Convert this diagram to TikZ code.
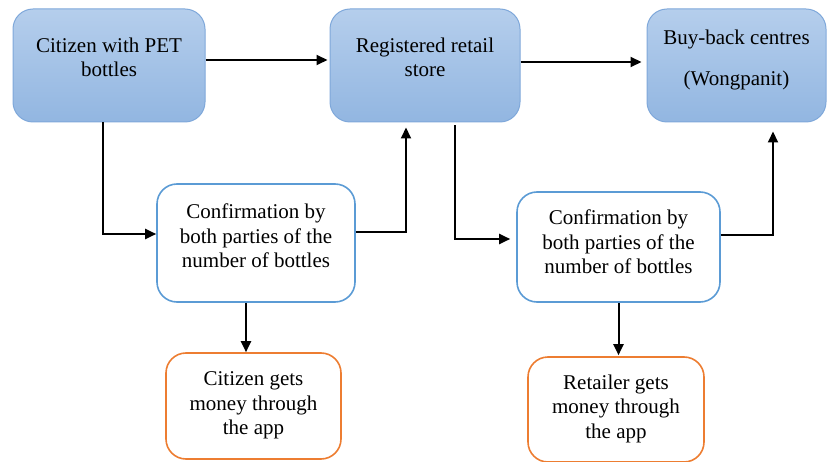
\documentclass[tikz,border=0pt]{standalone}
\usepackage{fontspec}
\newfontfamily\boxfont{LiberationSerif}[Extension=.ttf,UprightFont=*-Regular,BoldFont=*-Bold]
\usetikzlibrary{arrows.meta,calc}
\definecolor{topA}{HTML}{B5CEEC}
\definecolor{topB}{HTML}{92B6E1}
\definecolor{topLine}{HTML}{7FA8DA}
\definecolor{confLine}{HTML}{5B9BD5}
\definecolor{moneyLine}{HTML}{ED7D31}
\tikzset{
  x=1pt,y=1pt,
  topbox/.style={draw=topLine,line width=1pt,rounded corners=20pt,top color=topA,bottom color=topB,inner sep=0pt},
  confbox/.style={draw=confLine,line width=1.6pt,rounded corners=20pt,fill=white,inner sep=0pt},
  moneybox/.style={draw=moneyLine,line width=1.6pt,rounded corners=20pt,fill=white,inner sep=0pt},
  txt/.style={align=center,font=\boxfont\fontsize{21}{24.5}\selectfont,inner sep=0pt},
  arr/.style={line width=2pt,-{Triangle[length=11pt,width=10pt]}}
}
\begin{document}
\begin{tikzpicture}
\useasboundingbox (0,0) rectangle (827,461);
% top row
\node[topbox,minimum width=192pt,minimum height=113pt] (b1) at (109,395.5) {};
\node[topbox,minimum width=190pt,minimum height=113pt] (b2) at (425,395.5) {};
\node[topbox,minimum width=179pt,minimum height=113pt] (b3) at (736.5,395.5) {};
\node[txt] (t1) at (109,403.5) {Citizen with PET\\bottles};
\node[txt] (t2) at (425,403.5) {Registered retail\\store};
\node[txt] (t3) at (736.5,401.5) {Buy-back centres\\[16.5pt](Wongpanit)};
% confirmation boxes
\node[confbox,minimum width=198pt,minimum height=118pt] (c1) at (256,218) {};
\node[confbox,minimum width=203pt,minimum height=110pt] (c2) at (618.5,214) {};
\node[txt] (tc1) at (256,225) {Confirmation by\\both parties of the\\number of bottles};
\node[txt] (tc2) at (618.5,219) {Confirmation by\\both parties of the\\number of bottles};
% money boxes
\node[moneybox,minimum width=175pt,minimum height=106pt] (o1) at (253.5,55) {};
\node[moneybox,minimum width=176pt,minimum height=105pt] (o2) at (616,51.5) {};
\node[txt] (to1) at (253.5,55.5) {Citizen gets\\money through\\the app};
\node[txt] (to2) at (616,52.5) {Retailer gets\\money through\\the app};
% arrows
\draw[arr] ([yshift=5.5pt]b1.east) -- ([xshift=-2pt,yshift=5.5pt]b2.west);
\draw[arr] ([yshift=3.5pt]b2.east) -- ([xshift=-5pt,yshift=3.5pt]b3.west);
\draw[arr] ([xshift=-6pt]b1.south) |- ([yshift=9pt]c1.west);
\draw[arr] ([yshift=11pt]c1.east) -| ([xshift=-19pt,yshift=-5pt]b2.south);
\draw[arr] ([xshift=30pt,yshift=-3pt]b2.south) |- ([xshift=-6pt,yshift=8pt]c2.west);
\draw[arr] ([yshift=12pt]c2.east) -| ([xshift=36.5pt,yshift=-9pt]b3.south);
\draw[arr] ([xshift=-10pt]c1.south) -- ([xshift=-10pt]c1.south |- o1.north);
\draw[arr] (c2.south) -- ([yshift=1pt]c2.south |- o2.north);
\end{tikzpicture}
\end{document}
